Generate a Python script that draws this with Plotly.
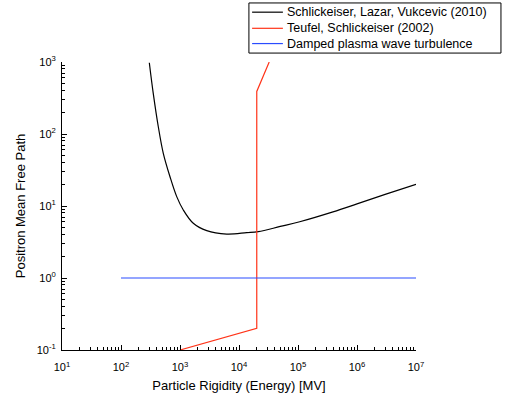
import plotly.graph_objects as go

# Data
slv_rigidity = [302, 352, 429, 521, 677, 880, 1138, 1680, 2840, 6190, 13500, 21200,
                50000, 107000, 392000, 1e6, 3e6, 1e7]
slv_mfp = [978, 367, 126, 54, 25.5, 13.5, 8.8, 5.75, 4.54, 4.08, 4.26, 4.4,
           5.2, 6.05, 8.3, 10.7, 14.5, 20]

ts_rigidity = [1000, 20000, 20000, 32500]
ts_mfp = [0.1, 0.2, 390, 1000]

damped_rigidity = [100, 1e7]
damped_mfp = [1, 1]

series_names = ["Schlickeiser, Lazar, Vukcevic (2010)", "Teufel, Schlickeiser (2002)",
                "Damped plasma wave turbulence"]
series_colors = ["black", "#ff3318", "#2a4cff"]

x_tickvals = [10, 100, 1000, 1e4, 1e5, 1e6, 1e7]
x_ticktext = ["10<sup>1</sup>", "10<sup>2</sup>", "10<sup>3</sup>", "10<sup>4</sup>",
              "10<sup>5</sup>", "10<sup>6</sup>", "10<sup>7</sup>"]
y_tickvals = [0.1, 1, 10, 100, 1000]
y_ticktext = ["10<sup>-1</sup>", "10<sup>0</sup>", "10<sup>1</sup>", "10<sup>2</sup>", "10<sup>3</sup>"]

x_minor = [m * 10 ** e for e in range(1, 7) for m in range(2, 10)]
y_minor = [m * 10 ** e for e in range(-1, 3) for m in range(2, 10)]

fig = go.Figure()
fig.add_trace(go.Scatter(x=slv_rigidity, y=slv_mfp, mode="lines",
                         line=dict(color=series_colors[0], width=1.2, shape="spline", smoothing=1),
                         name=series_names[0]))
fig.add_trace(go.Scatter(x=ts_rigidity, y=ts_mfp, mode="lines",
                         line=dict(color=series_colors[1], width=1.2),
                         name=series_names[1]))
fig.add_trace(go.Scatter(x=damped_rigidity, y=damped_mfp, mode="lines",
                         line=dict(color=series_colors[2], width=1.2),
                         name=series_names[2]))

font = "Arial, Liberation Sans, sans-serif"

# Legend box drawn in the top margin (paper coordinates)
leg_x0, leg_x1, leg_y0, leg_y1 = 0.528, 1.240, 1.031, 1.205
row_y = [1.173, 1.117, 1.064]
shapes = [dict(type="rect", xref="paper", yref="paper", x0=leg_x0, x1=leg_x1,
               y0=leg_y0, y1=leg_y1, line=dict(color="black", width=1), fillcolor="white", layer="above")]
annotations = []
for name, color, yy in zip(series_names, series_colors, row_y):
    shapes.append(dict(type="line", xref="paper", yref="paper", x0=0.537, x1=0.624,
                       y0=yy, y1=yy, line=dict(color=color, width=1.2), layer="above"))
    annotations.append(dict(text=name, xref="paper", yref="paper", x=0.631, y=yy,
                            xanchor="left", yanchor="middle", showarrow=False,
                            font=dict(size=12.5, family=font, color="black")))

fig.update_layout(
    width=505, height=401,
    margin=dict(l=62, r=89, t=62, b=51, autoexpand=False),
    paper_bgcolor="white", plot_bgcolor="white",
    font=dict(family=font, color="black", size=12),
    showlegend=False,
    shapes=shapes, annotations=annotations,
    xaxis=dict(type="log", range=[1, 7], showgrid=False, zeroline=False,
               showline=True, linecolor="black", linewidth=1, automargin=False,
               ticks="inside", ticklen=5, tickcolor="black", ticklabelstandoff=7,
               tickvals=x_tickvals, ticktext=x_ticktext,
               tickfont=dict(size=11, family=font),
               minor=dict(ticks="inside", ticklen=3, tickcolor="black", tickvals=x_minor, showgrid=False),
               title=dict(text="Particle Rigidity (Energy) [MV]", font=dict(size=13, family=font), standoff=8)),
    yaxis=dict(type="log", range=[-1, 3], showgrid=False, zeroline=False,
               showline=True, linecolor="black", linewidth=1, automargin=False,
               ticks="inside", ticklen=5, tickcolor="black", ticklabelstandoff=3,
               tickvals=y_tickvals, ticktext=y_ticktext,
               tickfont=dict(size=11, family=font),
               minor=dict(ticks="inside", ticklen=3, tickcolor="black", tickvals=y_minor, showgrid=False),
               title=dict(text="Positron Mean Free Path", font=dict(size=13, family=font), standoff=8)),
)

fig.write_html("out.html", config={"displayModeBar": False},
               post_script="document.body.style.margin='0px';")
